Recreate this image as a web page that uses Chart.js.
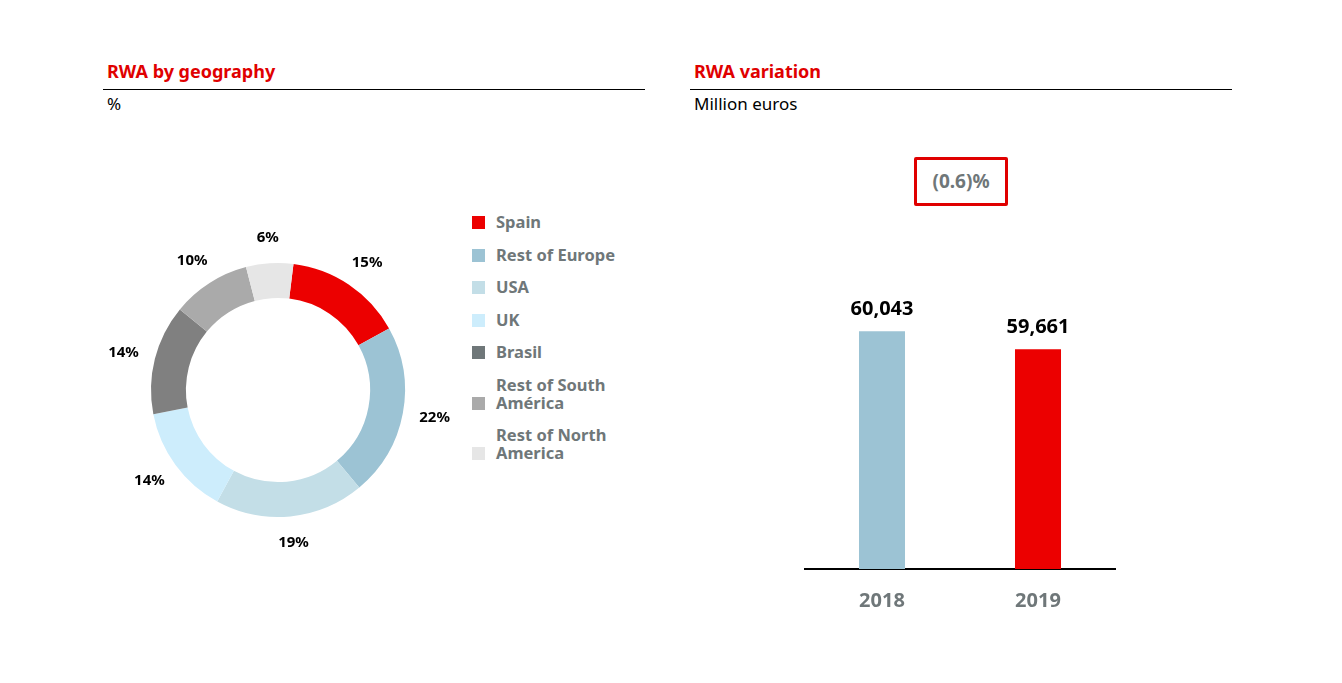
<!DOCTYPE html>
<html>
<head>
<meta charset="utf-8">
<script src="https://cdn.jsdelivr.net/npm/chart.js@4.4.0/dist/chart.umd.min.js"></script>
<style>
  body { margin: 0; background: #fff; font-family: "Noto Sans", sans-serif; }
  #page { position: relative; width: 1342px; height: 683px; overflow: hidden; }
  .title { position: absolute; color: #e00000; font-weight: bold; font-size: 18px; line-height: 24px; }
  .rule { position: absolute; height: 1px; background: #000; }
  .sub { position: absolute; color: #000; font-size: 17px; line-height: 22px; }
  #legend { position: absolute; left: 472px; top: 208px; }
  .lg { position: absolute; display: flex; align-items: flex-end; white-space: nowrap; color: #6f7779; font-weight: bold; font-size: 16.5px; line-height: 18px; }
  .lg .box { width: 13px; height: 13px; margin-right: 11px; margin-bottom: 2px; flex: none; }
  #varbox { position: absolute; left: 914px; top: 157px; width: 88px; height: 43px; border: 3px solid #e00000; border-radius: 2px;
            color: #6f7779; font-weight: bold; font-size: 19px; line-height: 43px; text-align: center; }
</style>
</head>
<body>
<div id="page">
  <div class="title" style="left:107px; top:59px;">RWA by geography</div>
  <div class="rule" style="left:103px; top:89px; width:542px;"></div>
  <div class="sub" style="left:107px; top:93px;">%</div>

  <div class="title" style="left:694px; top:59px;">RWA variation</div>
  <div class="rule" style="left:690px; top:89px; width:542px;"></div>
  <div class="sub" style="left:694px; top:93px;">Million euros</div>

  <div style="position:absolute; left:98px; top:210px; width:360px; height:360px;">
    <canvas id="geoChart"></canvas>
  </div>
  <div id="legend"></div>

  <div id="varbox">(0.6)%</div>
  <div style="position:absolute; left:804px; top:192px; width:312px; height:430px;">
    <canvas id="rwaChart"></canvas>
  </div>
</div>

<script>
// RWA by geography (%)
const geoLabels = ["Spain", "Rest of Europe", "USA", "UK", "Brasil", "Rest of South América", "Rest of North America"];
const geoLegendLines = [["Spain"], ["Rest of Europe"], ["USA"], ["UK"], ["Brasil"], ["Rest of South", "América"], ["Rest of North", "America"]];
const geoValues = [15, 22, 19, 14, 14, 10, 6];
const geoColors = ["#ec0000", "#9cc3d4", "#c3dee7", "#cdedfc", "#808080", "#aaaaaa", "#e6e6e6"];
const legendColors = ["#ec0000", "#9cc3d4", "#c3dee7", "#cdedfc", "#6f7779", "#aaaaaa", "#e6e6e6"];

// RWA variation (million euros)
const years = ["2018", "2019"];
const rwaValues = [60043, 59661];
const rwaColors = ["#9cc3d4", "#ec0000"];

Chart.defaults.font.family = '"Noto Sans", sans-serif';
Chart.defaults.animation = false;

// ---- labels outside the doughnut ----
const outerLabels = {
  id: "outerLabels",
  afterDatasetsDraw(chart) {
    const ctx = chart.ctx;
    const meta = chart.getDatasetMeta(0);
    ctx.save();
    ctx.font = "bold 15px 'Noto Sans'";
    ctx.fillStyle = "#000";
    ctx.textAlign = "center";
    ctx.textBaseline = "middle";
    meta.data.forEach((arc, i) => {
      const mid = (arc.startAngle + arc.endAngle) / 2;
      const r = arc.outerRadius + 17;
      const txt = geoValues[i] + "%";
      const w = ctx.measureText(txt).width;
      const x = arc.x + Math.cos(mid) * r + Math.cos(mid) * w / 2;
      const y = arc.y + Math.sin(mid) * r + Math.sin(mid) * 9;
      ctx.fillText(txt, x, y);
    });
    ctx.restore();
  }
};

new Chart(document.getElementById("geoChart"), {
  type: "doughnut",
  data: {
    labels: geoLabels,
    datasets: [{
      data: geoValues,
      backgroundColor: geoColors,
      borderWidth: 0,
      radius: 127
    }]
  },
  options: {
    responsive: true,
    maintainAspectRatio: false,
    cutout: "72.5%",
    rotation: 7,
    plugins: { legend: { display: false }, tooltip: { enabled: false } }
  },
  plugins: [outerLabels]
});

// html legend
const legendEl = document.getElementById("legend");
const legendTops = [5, 38, 70, 103, 135, 168, 218];
geoLegendLines.forEach((lines, i) => {
  const row = document.createElement("div");
  row.className = "lg";
  row.style.top = legendTops[i] + "px";
  row.innerHTML = '<span class="box" style="background:' + legendColors[i] + '"></span><span>' + lines.join("<br>") + "</span>";
  legendEl.appendChild(row);
});

// ---- value labels above bars ----
const barValues = {
  id: "barValues",
  afterDatasetsDraw(chart) {
    const ctx = chart.ctx;
    const meta = chart.getDatasetMeta(0);
    ctx.save();
    ctx.font = "bold 20px 'Noto Sans'";
    ctx.fillStyle = "#000";
    ctx.textAlign = "center";
    ctx.textBaseline = "alphabetic";
    meta.data.forEach((bar, i) => {
      ctx.fillText(rwaValues[i].toLocaleString("en-US"), bar.x, bar.y - 16);
    });
    ctx.restore();
  }
};

new Chart(document.getElementById("rwaChart"), {
  type: "bar",
  data: {
    labels: years,
    datasets: [{
      data: rwaValues,
      backgroundColor: rwaColors,
      barPercentage: 0.295,
      categoryPercentage: 1
    }]
  },
  options: {
    responsive: true,
    maintainAspectRatio: false,
    layout: { padding: 0 },
    scales: {
      x: {
        grid: { display: false, drawTicks: false },
        border: { display: true, color: "#000", width: 2 },
        ticks: { color: "#6f7779", font: { size: 20, weight: "bold" }, padding: 20 },
        afterFit(scale) { scale.height = 53; }
      },
      y: {
        display: false,
        min: 55000,
        max: 63000
      }
    },
    plugins: { legend: { display: false }, tooltip: { enabled: false } }
  },
  plugins: [barValues]
});
</script>
</body>
</html>
